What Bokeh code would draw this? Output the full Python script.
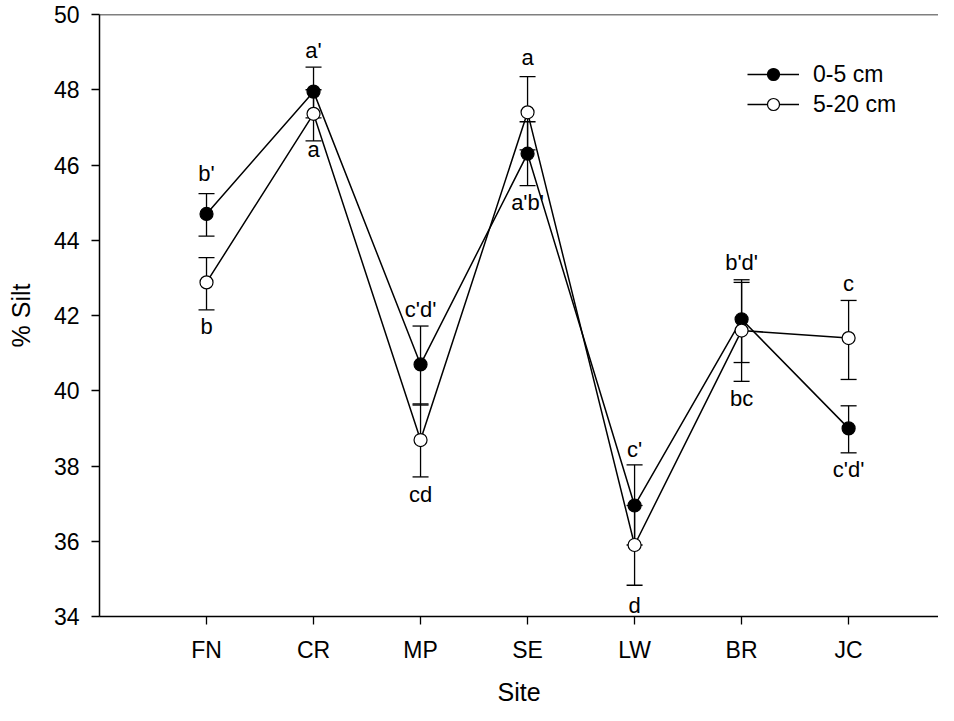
from bokeh.plotting import figure
from bokeh.models import (ColumnDataSource, Whisker, TeeHead, FixedTicker, Legend,
                          LegendItem, Span, Range1d)
from bokeh.embed import file_html
from bokeh.resources import INLINE
from bokeh.core.properties import value

# ---- data ----
sites = ["FN", "CR", "MP", "SE", "LW", "BR", "JC"]

silt_0_5 = [44.70, 47.95, 40.70, 46.30, 36.95, 41.90, 39.00]
silt_0_5_lower = [44.11, 47.25, 39.62, 45.45, 35.90, 40.75, 38.35]
silt_0_5_upper = [45.24, 48.60, 41.72, 47.15, 38.03, 42.95, 39.60]

silt_5_20 = [42.88, 47.36, 38.69, 47.40, 35.90, 41.60, 41.40]
silt_5_20_lower = [42.15, 46.64, 37.71, 46.40, 34.83, 40.25, 40.30]
silt_5_20_upper = [43.54, 48.00, 39.65, 48.35, 36.95, 42.88, 42.40]

labels_0_5 = ["b'", "a'", "c'd'", "a'b'", "c'", "b'd'", "c'd'"]
labels_0_5_y = [45.77, 49.05, 42.16, 45.00, 38.44, 43.40, 37.90]
labels_5_20 = ["b", "a", "cd", "a", "d", "bc", "c"]
labels_5_20_y = [41.72, 46.41, 37.25, 48.85, 34.28, 39.80, 42.85]

y_ticks = [34, 36, 38, 40, 42, 44, 46, 48, 50]
y_start, y_end = 34, 50

x_pos = [i + 1 for i in range(len(sites))]

FONT = "Liberation Sans"

p = figure(frame_width=839, frame_height=602, min_border_left=99, min_border_top=14,
           min_border_right=0, min_border_bottom=89,
           x_range=Range1d(0, 7.84), y_range=Range1d(y_start, y_end),
           output_backend="svg", toolbar_location=None, outline_line_color=None,
           background_fill_color="white", border_fill_color="white")
p.grid.visible = False

src1 = ColumnDataSource(dict(x=x_pos, y=silt_0_5, lo=silt_0_5_lower, hi=silt_0_5_upper))
src2 = ColumnDataSource(dict(x=x_pos, y=silt_5_20, lo=silt_5_20_lower, hi=silt_5_20_upper))

for src in (src1, src2):
    w = Whisker(source=src, base="x", lower="lo", upper="hi", line_color="black", line_width=1.3,
                upper_head=TeeHead(size=16, line_color="black", line_width=1.3),
                lower_head=TeeHead(size=16, line_color="black", line_width=1.3))
    p.add_layout(w)

l1 = p.line("x", "y", source=src1, line_color="black", line_width=1.5)
l2 = p.line("x", "y", source=src2, line_color="black", line_width=1.5)
m1 = p.scatter("x", "y", source=src1, size=13, fill_color="black", line_color="black", line_width=1.2)
m2 = p.scatter("x", "y", source=src2, size=13, fill_color="white", line_color="black", line_width=1.2)

# significance letters
p.text(x=x_pos, y=labels_0_5_y, text=labels_0_5, text_align="center", text_baseline="middle",
       text_font=value(FONT), text_font_size="22px", text_color="black")
p.text(x=x_pos, y=labels_5_20_y, text=labels_5_20, text_align="center", text_baseline="middle",
       text_font=value(FONT), text_font_size="22px", text_color="black")

# top border line
p.add_layout(Span(location=y_end, dimension="width", line_color="black", line_width=1.5))

# axes
p.xaxis.ticker = FixedTicker(ticks=x_pos)
p.xaxis.major_label_overrides = {x: s for x, s in zip(x_pos, sites)}
p.yaxis.ticker = FixedTicker(ticks=y_ticks)
for ax in (p.xaxis[0], p.yaxis[0]):
    ax.axis_line_width = 1.5
    ax.axis_line_color = "black"
    ax.major_tick_line_color = "black"
    ax.major_tick_line_width = 1.3
    ax.major_tick_in = 0
    ax.major_tick_out = 8
    ax.minor_tick_line_color = None
    ax.major_label_text_font = FONT
    ax.major_label_text_font_size = "23px"
    ax.major_label_text_color = "black"
    ax.axis_label_text_font = FONT
    ax.axis_label_text_font_size = "25px"
    ax.axis_label_text_font_style = "normal"
    ax.axis_label_text_color = "black"
p.xaxis.axis_label = "Site"
p.yaxis.axis_label = "% Silt"
p.xaxis.major_label_standoff = 12
p.yaxis.major_label_standoff = 12
p.xaxis.axis_label_standoff = 12
p.yaxis.axis_label_standoff = 16

legend = Legend(items=[LegendItem(label="0-5 cm", renderers=[l1, m1]),
                       LegendItem(label="5-20 cm", renderers=[l2, m2])],
                location=(648, 497), padding=0, spacing=0, margin=0,
                glyph_width=52, glyph_height=30, label_height=30, label_standoff=14,
                label_text_font=FONT, label_text_font_size="23px", label_text_color="black",
                border_line_color=None, background_fill_alpha=0)
p.add_layout(legend, "center")

open("out.html", "w").write(file_html(p, INLINE))
